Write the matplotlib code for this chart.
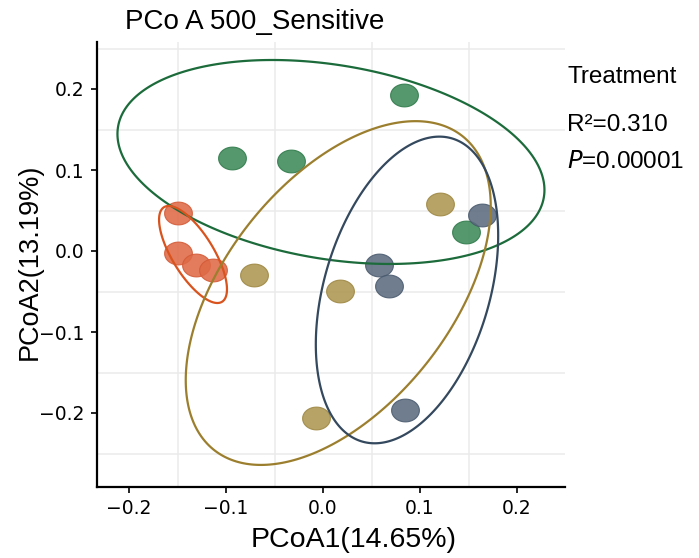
import matplotlib
matplotlib.use("Agg")
import matplotlib.pyplot as plt
import numpy as np
from matplotlib.path import Path
from matplotlib.patches import Polygon

# Sample scores per treatment group (PCoA1, PCoA2)
GROUPS = ["green", "orange", "gold", "blue"]
PC1 = {
    "green": [0.0835, -0.094, -0.033, 0.147],
    "orange": [-0.149, -0.149, -0.131, -0.113],
    "gold": [-0.071, 0.018, 0.121, -0.007],
    "blue": [0.164, 0.058, 0.068, 0.085],
}
PC2 = {
    "green": [0.193, 0.115, 0.111, 0.023],
    "orange": [0.047, -0.002, -0.017, -0.023],
    "gold": [-0.030, -0.049, 0.058, -0.206],
    "blue": [0.044, -0.017, -0.043, -0.196],
}
# Confidence ellipses: centre, x/y half-extent, correlation
ELL_CX = {"green": 0.0082, "orange": -0.134, "gold": 0.0157, "blue": 0.0866}
ELL_CY = {"green": 0.1099, "orange": -0.0043, "gold": -0.0519, "blue": -0.0481}
ELL_RX = {"green": 0.2201, "orange": 0.0350, "gold": 0.1572, "blue": 0.0940}
ELL_RY = {"green": 0.1259, "orange": 0.0599, "gold": 0.2122, "blue": 0.1893}
ELL_RHO = {"green": -0.2745, "orange": -0.716, "gold": 0.507, "blue": 0.355}

LINE_COLOR = {"green": "#1c6b3b", "orange": "#d9531e", "gold": "#9c7f2e", "blue": "#34485e"}
FILL_COLOR = {"green": "#3e8a5a", "orange": "#de6a47", "gold": "#ad9750", "blue": "#5b6b80"}
EDGE_COLOR = {"green": "#2f7a4a", "orange": "#d45a36", "gold": "#9e8742", "blue": "#4a5a6e"}

XTICKS = [-0.2, -0.1, 0.0, 0.1, 0.2]
YTICKS = [-0.2, -0.1, 0.0, 0.1, 0.2]
XGRID = [-0.15, -0.05, 0.05, 0.15, 0.25]
YGRID = [-0.25, -0.15, -0.05, 0.05, 0.15, 0.25]

plt.rcParams["font.family"] = ["Liberation Sans", "DejaVu Sans"]
plt.rcParams["axes.unicode_minus"] = True

W, H = 699, 558
fig = plt.figure(figsize=(W / 100, H / 100), dpi=100)
ax = fig.add_axes([97 / W, 1 - 487 / H, (565 - 97) / W, (487 - 42) / H])

# only minor grid lines, as in the original
for gx in XGRID:
    ax.axvline(gx, color="#ebebeb", lw=1.1, zorder=0)
for gy in YGRID:
    ax.axhline(gy, color="#ebebeb", lw=1.1, zorder=0)

# slightly flattened round marker
t = np.linspace(0, 2 * np.pi, 60)
marker = Path(np.column_stack([np.cos(t), 0.82 * np.sin(t)]), closed=True)

for g in GROUPS:
    ax.scatter(PC1[g], PC2[g], s=400, marker=marker, facecolor=FILL_COLOR[g],
               edgecolor=EDGE_COLOR[g], linewidth=0.8, alpha=0.88, zorder=3)

for g in GROUPS:
    rx, ry, rho = ELL_RX[g], ELL_RY[g], ELL_RHO[g]
    cov = np.array([[rx * rx, rho * rx * ry], [rho * rx * ry, ry * ry]])
    L = np.linalg.cholesky(cov)
    tt = np.linspace(0, 2 * np.pi, 300, endpoint=False)
    pts = (L @ np.vstack([np.cos(tt), np.sin(tt)])).T + [ELL_CX[g], ELL_CY[g]]
    ax.add_patch(Polygon(pts, closed=True, fill=False, edgecolor=LINE_COLOR[g],
                         lw=1.6, zorder=4))

ax.set_xlim((97 - 323) / 970, (565 - 323) / 970)
ax.set_ylim((251 - 487) / 810, (251 - 42) / 810)
ax.set_xticks(XTICKS)
ax.set_yticks(YTICKS)
ax.set_xticklabels([f"{v:.1f}".replace("-", "\u2212") for v in XTICKS])
ax.set_yticklabels([f"{v:.1f}".replace("-", "\u2212") for v in YTICKS])
for lab in ax.get_xticklabels() + ax.get_yticklabels():
    lab.set_family("DejaVu Sans")
for s in ["top", "right"]:
    ax.spines[s].set_visible(False)
for s in ["left", "bottom"]:
    ax.spines[s].set_linewidth(1.6)
ax.tick_params(length=4, width=1.2, labelsize=13.5, color="black")
ax.tick_params(axis="x", pad=5)
ax.tick_params(axis="y", pad=5)

fig.text(354 / W, 1 - 540 / H, "PCoA1(14.65%)", fontsize=20.5, ha="center", va="center")
fig.text(30 / W, 1 - 262 / H, "PCoA2(13.19%)", fontsize=19.5, ha="center", va="center",
         rotation=90)
fig.text(125 / W, 1 - 22 / H, "PCo A 500_Sensitive", fontsize=20, ha="left", va="center")

fig.text(567 / W, 1 - 77 / H, "Treatment", fontsize=17.5, ha="left", va="center")
fig.text(567 / W, 1 - 125 / H, "R\u00b2=0.310", fontsize=17.5, ha="left", va="center")
fig.text(567 / W, 1 - 162 / H, "$\\it{P}$=0.00001", fontsize=17.5, ha="left", va="center")

fig.savefig("out.png", dpi=100)
